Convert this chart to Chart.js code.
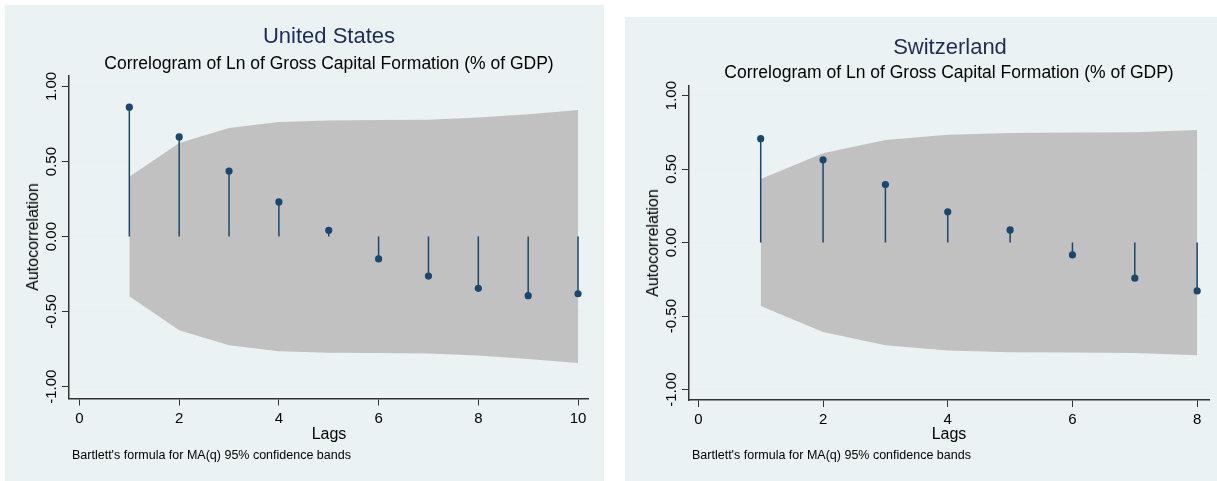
<!DOCTYPE html>
<html>
<head>
<meta charset="utf-8">
<script src="https://cdn.jsdelivr.net/npm/chart.js@4/dist/chart.umd.min.js"></script>
<style>
    body { margin: 0; width: 1217px; height: 481px; background: #fff; position: relative; overflow: hidden; font-family: "Liberation Sans", Arial, sans-serif; }
    .panel { position: absolute; background: #eaf2f3; }
    .panel canvas { position: absolute; left: 0; top: 0; }
    .txt { position: absolute; white-space: nowrap; line-height: 1; }
</style>
</head>
<body>
<div class="panel" id="panelUS" style="left:5px; top:5px; width:599px; height:476px;">
    <canvas id="graficaUS" width="599" height="476"></canvas>
</div>
<div class="panel" id="panelCH" style="left:625px; top:17px; width:592px; height:464px;">
    <canvas id="graficaCH" width="592" height="464"></canvas>
</div>
<script>
const fuente = "'Liberation Sans', Arial, sans-serif";

// Estados Unidos
const lagsUS = [1, 2, 3, 4, 5, 6, 7, 8, 9, 10];
const acfUS = [0.862, 0.664, 0.437, 0.231, 0.042, -0.149, -0.263, -0.345, -0.394, -0.381];
const superiorUS = [0.398, 0.624, 0.724, 0.764, 0.774, 0.776, 0.779, 0.793, 0.815, 0.843];
const inferiorUS = [-0.398, -0.624, -0.724, -0.764, -0.774, -0.776, -0.779, -0.793, -0.815, -0.843];
const xTicksUS = [0, 2, 4, 6, 8, 10];

// Suiza
const lagsCH = [1, 2, 3, 4, 5, 6, 7, 8];
const acfCH = [0.707, 0.563, 0.395, 0.209, 0.086, -0.084, -0.242, -0.329];
const superiorCH = [0.432, 0.608, 0.698, 0.734, 0.746, 0.748, 0.751, 0.766];
const inferiorCH = [-0.432, -0.608, -0.698, -0.734, -0.746, -0.748, -0.751, -0.766];
const xTicksCH = [0, 2, 4, 6, 8];

const yTicks = [-1, -0.5, 0, 0.5, 1];
const yEtiquetas = ["-1.00", "-0.50", "0.00", "0.50", "1.00"];

const etiquetasY = {
    id: "etiquetasY",
    afterDraw(chart) {
        const { ctx, chartArea, scales } = chart;
        ctx.save();
        ctx.font = "15px " + fuente;
        ctx.fillStyle = "#000";
        ctx.textAlign = "center";
        ctx.textBaseline = "alphabetic";
        yTicks.forEach((v, i) => {
            ctx.save();
            ctx.translate(chartArea.left - 13, scales.y.getPixelForValue(v));
            ctx.rotate(-Math.PI / 2);
            ctx.fillText(yEtiquetas[i], 0, 0);
            ctx.restore();
        });
        ctx.restore();
    }
};

function correlograma(id, lags, acf, superior, inferior, xTicks, xMin, xMax, yMin, yMax, padding) {
    const puntos = (valores) => lags.map((x, i) => ({ x: x, y: valores[i] }));
    // cada palito va de 0 al valor, separados por un hueco
    const palitos = lags.flatMap((x, i) => [{ x: x, y: 0 }, { x: x, y: acf[i] }, { x: x, y: null }]);
    return new Chart(document.getElementById(id), {
        type: "scatter",
        data: {
            datasets: [
                { type: "line", data: puntos(superior), fill: "+1", backgroundColor: "#c1c1c1", borderColor: "rgba(0,0,0,0)", borderWidth: 0, pointRadius: 0, tension: 0, order: 3 },
                { type: "line", data: puntos(inferior), fill: false, borderColor: "rgba(0,0,0,0)", borderWidth: 0, pointRadius: 0, tension: 0, order: 3 },
                { type: "line", data: palitos, fill: false, borderColor: "#1a476f", borderWidth: 1.5, pointRadius: 0, spanGaps: false, order: 2 },
                { type: "scatter", data: puntos(acf), backgroundColor: "#1a476f", pointRadius: 3.6, pointBorderWidth: 0, order: 1 }
            ]
        },
        options: {
            responsive: false,
            animation: false,
            devicePixelRatio: 1,
            layout: { padding: padding },
            plugins: { legend: { display: false }, tooltip: { enabled: false } },
            scales: {
                x: {
                    type: "linear", min: xMin, max: xMax, offset: false,
                    afterFit(s) { s.height = 40; },
                    afterBuildTicks(s) { s.ticks = xTicks.map((v) => ({ value: v })); },
                    grid: { color: "rgba(0,0,0,0)", tickColor: "#333", tickLength: 7, offset: false },
                    border: { color: "#333", width: 1.5 },
                    ticks: { color: "#000", font: { size: 15, family: fuente }, padding: 4, maxRotation: 0, autoSkip: false }
                },
                y: {
                    type: "linear", min: yMin, max: yMax,
                    afterFit(s) { s.width = 0; },
                    afterBuildTicks(s) { s.ticks = yTicks.map((v) => ({ value: v })); },
                    grid: { color: "#e8f0f2", tickColor: "#333", tickLength: 7 },
                    border: { color: "#333", width: 1.5 },
                    ticks: { display: false }
                }
            }
        },
        plugins: [etiquetasY]
    });
}

function texto(contenido, x, y, size, color, centrado, rotado) {
    const div = document.createElement("div");
    div.className = "txt";
    div.textContent = contenido;
    div.style.left = x + "px";
    div.style.top = (y - size / 2) + "px";
    div.style.fontSize = size + "px";
    div.style.color = color;
    if (rotado) div.style.transform = "translateX(-50%) rotate(-90deg)";
    else if (centrado) div.style.transform = "translateX(-50%)";
    document.body.append(div);
}

correlograma("graficaUS", lagsUS, acfUS, superiorUS, inferiorUS, xTicksUS, -0.21, 10.2, -1.079, 1.07, { left: 64, top: 71, right: 16, bottom: 42.5 });
correlograma("graficaCH", lagsCH, acfCH, superiorCH, inferiorCH, xTicksCH, -0.15, 8.19, -1.071, 1.065, { left: 64, top: 69, right: 8, bottom: 41 });

const subtitulo = "Correlogram of Ln of Gross Capital Formation (% of GDP)";
const nota = "Bartlett's formula for MA(q) 95% confidence bands";

texto("United States", 329, 36, 22, "#1c2d5a", true);
texto(subtitulo, 329, 63.5, 17.5, "#000", true);
texto("Autocorrelation", 33, 237, 16, "#000", false, true);
texto("Lags", 329, 434, 16, "#000", true);
texto(nota, 72, 455.5, 12.5, "#000", false);

texto("Switzerland", 950, 47, 22, "#1c2d5a", true);
texto(subtitulo, 949, 73, 17.5, "#000", true);
texto("Autocorrelation", 653, 243, 16, "#000", false, true);
texto("Lags", 949, 434, 16, "#000", true);
texto(nota, 692, 455.5, 12.5, "#000", false);
</script>
</body>
</html>
